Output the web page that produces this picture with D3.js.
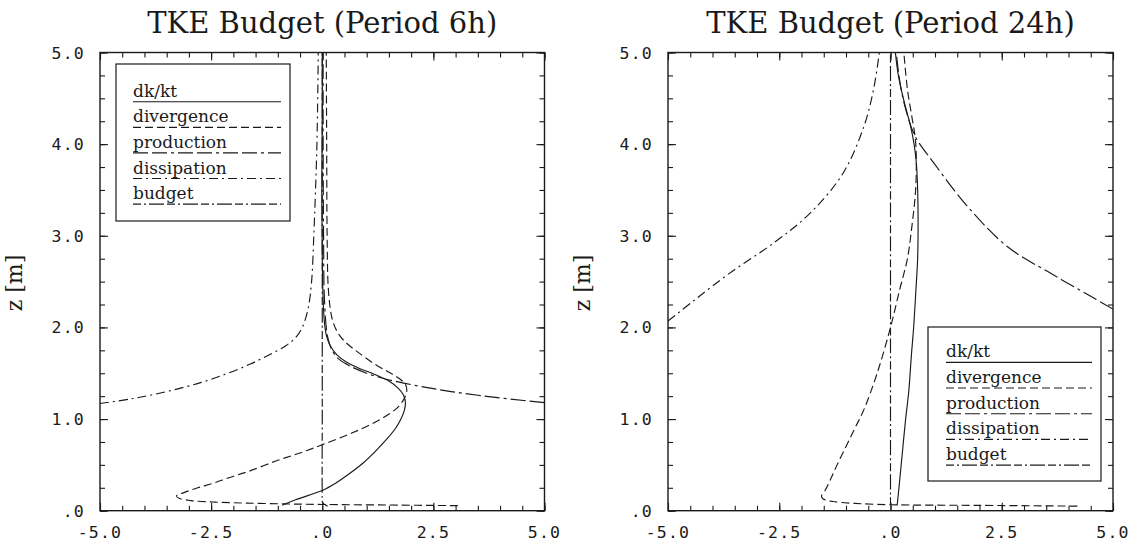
<!DOCTYPE html>
<html><head><meta charset="utf-8">
<script src="https://cdn.jsdelivr.net/npm/d3@7/dist/d3.min.js"></script>
<style>
body{margin:0;background:#fff}
svg{display:block}
</style>
</head><body>
<svg id="chart" width="1134" height="546"></svg>
<script>
// ---------- data ----------
const titles = ["TKE Budget (Period 6h)", "TKE Budget (Period 24h)"];
const yAxisTitle = "z [m]";
const seriesNames = ["dk/kt", "divergence", "production", "dissipation", "budget"];
const xTickValues = [-5, -2.5, 0, 2.5, 5];
const xTickLabels = ["-5.0", "-2.5", ".0", "2.5", "5.0"];
const yTickValues = [0, 1, 2, 3, 4, 5];
const yTickLabels = [".0", "1.0", "2.0", "3.0", "4.0", "5.0"];

// Period 6h, pairs [z, value]
const dkdt6 = [[0.06,-0.9],[0.12,-0.6],[0.22,0],[0.3,0.3],[0.4,0.6],[0.52,0.92],[0.65,1.2],[0.78,1.45],[0.9,1.65],[1.0,1.77],[1.1,1.85],[1.18,1.87],[1.26,1.83],[1.34,1.7],[1.42,1.48],[1.5,1.12],[1.55,0.85],[1.62,0.55],[1.7,0.33],[1.8,0.18],[1.9,0.1],[2.05,0.05],[2.3,0.02],[2.8,0.0],[3.5,-0.01],[4.3,0.0],[5.0,0.0]];
const div6 = [[0.055,3.05],[0.062,1.5],[0.068,0.0],[0.074,-0.82],[0.083,-1.7],[0.094,-2.42],[0.11,-2.95],[0.135,-3.22],[0.16,-3.28],[0.2,-3.1],[0.25,-2.8],[0.3,-2.45],[0.36,-2.1],[0.43,-1.65],[0.55,-1.0],[0.63,-0.5],[0.72,0.0],[0.85,0.68],[1.0,1.32],[1.12,1.68],[1.22,1.84],[1.3,1.9],[1.37,1.88],[1.44,1.74],[1.51,1.5],[1.6,1.18],[1.73,0.8],[1.85,0.5],[1.95,0.34],[2.1,0.22],[2.4,0.14],[3.0,0.11],[4.0,0.1],[5.0,0.09]];
const prod6 = [[1.18,5.0],[1.22,4.2],[1.26,3.5],[1.3,2.9],[1.34,2.4],[1.39,1.86],[1.44,1.4],[1.5,1.0],[1.58,0.62],[1.66,0.36],[1.75,0.22],[1.9,0.12],[2.3,0.05],[3.0,0.03],[4.0,0.02],[5.0,0.02]];
const diss6 = [[1.17,-5.0],[1.22,-4.3],[1.3,-3.5],[1.4,-2.72],[1.5,-2.12],[1.6,-1.62],[1.7,-1.2],[1.8,-0.82],[1.9,-0.58],[2.0,-0.45],[2.2,-0.32],[2.5,-0.24],[3.0,-0.19],[4.0,-0.12],[5.0,-0.09]];
const bud6 = [[0.05,0.12],[0.09,0.01],[0.2,0.0],[1.0,0.0],[2.5,0.0],[5.0,0.0]];

// Period 24h, pairs [z, value]
const dkdt24 = [[0.06,0.15],[0.3,0.2],[0.6,0.26],[1.0,0.34],[1.3,0.41],[1.7,0.47],[2.0,0.52],[2.4,0.57],[2.75,0.61],[3.1,0.62],[3.5,0.61],[3.8,0.58],[4.0,0.53],[4.2,0.45],[4.4,0.34],[4.6,0.24],[4.8,0.16],[5.0,0.11]];
const div24 = [[0.05,4.2],[0.058,2.0],[0.065,0.0],[0.08,-0.8],[0.1,-1.3],[0.13,-1.52],[0.16,-1.55],[0.22,-1.47],[0.34,-1.35],[0.5,-1.2],[0.7,-1.0],[0.9,-0.8],[1.1,-0.6],[1.5,-0.3],[2.0,0.0],[2.4,0.2],[2.75,0.38],[3.1,0.48],[3.47,0.56],[3.8,0.58],[4.05,0.56],[4.3,0.48],[4.6,0.38],[5.0,0.3]];
const prod24 = [[2.2,5.0],[2.34,4.5],[2.59,3.6],[2.88,2.63],[3.32,1.73],[3.79,0.98],[4.08,0.56],[4.35,0.36],[4.65,0.22],[5.0,0.13]];
const diss24 = [[2.07,-5.0],[2.3,-4.4],[2.59,-3.62],[2.93,-2.6],[3.25,-1.8],[3.68,-1.07],[4.19,-0.6],[4.6,-0.38],[5.0,-0.25]];
const bud24 = [[0.06,0.0],[1.0,0.0],[2.5,0.0],[5.0,0.0]];

// ---------- drawing ----------
const dashes = [null, "8,4", "15,4,15,4,3,4", "9,4,2,4", "8,3,2,3,15,3"];
const svg = d3.select("#chart");
const yTop = 52.5, yBot = 510.7;
const panels = [
  {title: titles[0], x0: 100, x1: 544.5, series: [dkdt6, div6, prod6, diss6, bud6],
   legend: {x: 116, y: 64, w: 174, h: 157, tx: 133, lx2: 281, ly: 101.7, step: 25.6}},
  {title: titles[1], x0: 668, x1: 1113, series: [dkdt24, div24, prod24, diss24, bud24],
   legend: {x: 928, y: 327, w: 173, h: 154, tx: 946, lx2: 1092, ly: 362.3, step: 25.7}}
];
const ink = "#1a1a1a";
const serif = "'DejaVu Serif', serif";
const numFont = "'DejaVu Sans Mono', monospace";

panels.forEach((p, i) => {
  const x = d3.scaleLinear().domain([-5, 5]).range([p.x0, p.x1]);
  const y = d3.scaleLinear().domain([0, 5]).range([yBot, yTop]);
  const g = svg.append("g");
  const cx = (p.x0 + p.x1) / 2;

  // title
  g.append("text").attr("x", cx).attr("y", 33).attr("text-anchor", "middle")
    .attr("font-family", serif).attr("font-size", 29).attr("fill", ink).text(p.title);

  // y axis title
  g.append("text").attr("transform", `translate(${p.x0 - 78},283) rotate(-90)`)
    .attr("text-anchor", "middle").attr("font-family", serif).attr("font-size", 22)
    .attr("fill", ink).text(yAxisTitle);

  // clip
  const cid = "clip" + i;
  svg.append("clipPath").attr("id", cid).append("rect")
    .attr("x", p.x0).attr("y", yTop).attr("width", p.x1 - p.x0).attr("height", yBot - yTop);

  // ticks (inward) on all four sides
  const minorX = d3.range(-5, 5.001, 0.5), majorX = xTickValues;
  const minorY = d3.range(0, 5.001, 0.25), majorY = yTickValues;
  const tickG = g.append("g");
  const addAxis = (axis, tf) => {
    const a = tickG.append("g").attr("transform", tf).call(axis);
    a.select(".domain").remove();
    a.selectAll("text").remove();
    a.selectAll("line").attr("stroke", ink).attr("stroke-width", 1.1);
  };
  addAxis(d3.axisBottom(x).tickValues(minorX).tickSize(-5), `translate(0,${yBot})`);
  addAxis(d3.axisBottom(x).tickValues(majorX).tickSize(-8), `translate(0,${yBot})`);
  addAxis(d3.axisTop(x).tickValues(minorX).tickSize(-5), `translate(0,${yTop})`);
  addAxis(d3.axisTop(x).tickValues(majorX).tickSize(-8), `translate(0,${yTop})`);
  addAxis(d3.axisLeft(y).tickValues(minorY).tickSize(-5), `translate(${p.x0},0)`);
  addAxis(d3.axisLeft(y).tickValues(majorY).tickSize(-8), `translate(${p.x0},0)`);
  addAxis(d3.axisRight(y).tickValues(minorY).tickSize(-5), `translate(${p.x1},0)`);
  addAxis(d3.axisRight(y).tickValues(majorY).tickSize(-8), `translate(${p.x1},0)`);

  // tick labels
  g.selectAll(".xl").data(xTickValues).join("text")
    .attr("x", d => x(d)).attr("y", 538).attr("text-anchor", "middle")
    .attr("font-family", numFont).attr("font-size", 16.5)
    .attr("letter-spacing", 1.2)
    .attr("fill", ink).text((d, k) => xTickLabels[k]);
  g.selectAll(".yl").data(yTickValues).join("text")
    .attr("x", p.x0 - 15).attr("y", d => y(d) + 6).attr("text-anchor", "end")
    .attr("font-family", numFont).attr("font-size", 16.5)
    .attr("letter-spacing", 1.2)
    .attr("fill", ink).text((d, k) => yTickLabels[k]);

  // curves
  const line = d3.line().x(d => x(d[1])).y(d => y(d[0])).curve(d3.curveCatmullRom.alpha(0.5));
  const cg = g.append("g").attr("clip-path", `url(#${cid})`);
  p.series.forEach((s, k) => {
    cg.append("path").datum(s).attr("d", line).attr("fill", "none")
      .attr("stroke", ink).attr("stroke-width", 1.15)
      .attr("stroke-dasharray", dashes[k]);
  });

  // frame
  g.append("rect").attr("x", p.x0).attr("y", yTop).attr("width", p.x1 - p.x0)
    .attr("height", yBot - yTop).attr("fill", "none").attr("stroke", ink).attr("stroke-width", 1.4);

  // legend
  const L = p.legend;
  const lg = g.append("g");
  lg.append("rect").attr("x", L.x).attr("y", L.y).attr("width", L.w).attr("height", L.h)
    .attr("fill", "#fff").attr("stroke", ink).attr("stroke-width", 1.2);
  seriesNames.forEach((name, k) => {
    const ly = L.ly + k * L.step;
    lg.append("text").attr("x", L.tx).attr("y", ly - 5).attr("font-family", serif)
      .attr("font-size", 17).attr("fill", ink).text(name);
    lg.append("line").attr("x1", L.tx).attr("x2", L.lx2).attr("y1", ly).attr("y2", ly)
      .attr("stroke", ink).attr("stroke-width", 1.15).attr("stroke-dasharray", dashes[k]);
  });
});
</script>
</body></html>
